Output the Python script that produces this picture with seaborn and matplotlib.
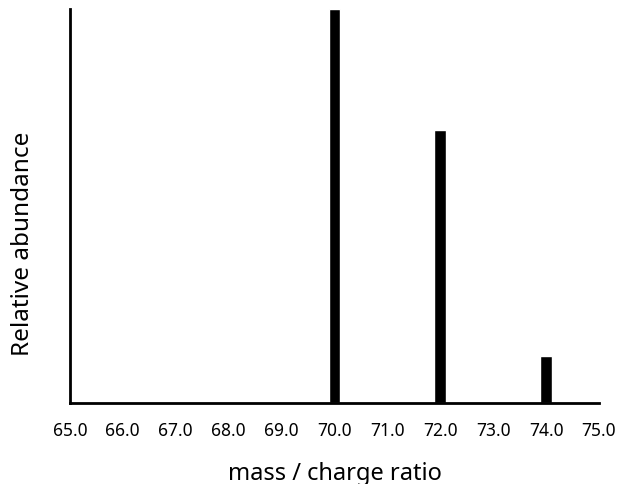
import matplotlib
matplotlib.use("Agg")
import matplotlib.pyplot as plt
import seaborn as sns

# mass spectrum peaks
mz = [70, 72, 74]
abundance = [100, 69.3, 11.9]
tick_values = [65, 66, 67, 68, 69, 70, 71, 72, 73, 74, 75]
tick_labels = [f"{t:.1f}" for t in tick_values]

sns.set_theme(style="white")
plt.rcParams['font.family'] = ['Noto Sans', 'DejaVu Sans']
plt.rcParams['text.color'] = 'black'
plt.rcParams['axes.labelcolor'] = 'black'
plt.rcParams['xtick.color'] = 'black'

fig = plt.figure(figsize=(6.24, 4.85), dpi=100)
ax = fig.add_axes([0.112, 0.167, 0.848, 0.812])

sns.barplot(x=mz, y=abundance, native_scale=True, width=0.11,
            color="black", saturation=1, ax=ax)

ax.set_xlim(65, 75)
ax.set_ylim(0, 100)
ax.set_xticks(tick_values)
ax.set_xticklabels(tick_labels, fontsize=12.5)
ax.set_yticks([])
ax.tick_params(axis="x", length=0, pad=13)

ax.set_xlabel("mass / charge ratio", fontsize=17)
ax.set_ylabel("Relative abundance", fontsize=17.5)
ax.xaxis.set_label_coords(0.5, -0.148)
ax.yaxis.set_label_coords(-0.066, 0.406)

for s in ["top", "right"]:
    ax.spines[s].set_visible(False)
for s in ["left", "bottom"]:
    ax.spines[s].set_color("black")
    ax.spines[s].set_linewidth(2)

fig.savefig("out.png", dpi=100, facecolor="white")
